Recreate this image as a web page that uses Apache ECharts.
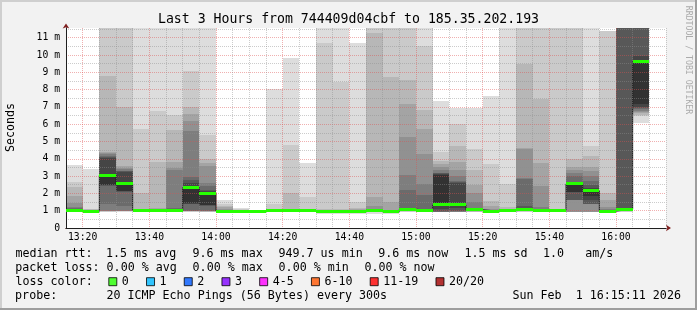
<!DOCTYPE html>
<html>
<head>
<meta charset="utf-8">
<script src="https://cdn.jsdelivr.net/npm/echarts@6/dist/echarts.min.js"></script>
<style>
html,body{margin:0;padding:0;background:#f2f2f2;}
#c{width:697px;height:310px;}
</style>
</head>
<body>
<div id="c"></div>
<script>
// ---------------- DATA ----------------
const title = 'Last 3 Hours from 744409d04cbf to 185.35.202.193';
const yTitle = 'Seconds';
const credit = 'RRDTOOL / TOBI OETIKER';

// 5-minute slot start times (local)
const slotStart = ['13:15','13:20','13:25','13:30','13:35','13:40','13:45','13:50','13:55','14:00',
                   '14:05','14:10','14:15','14:20','14:25','14:30','14:35','14:40','14:45','14:50',
                   '14:55','15:00','15:05','15:10','15:15','15:20','15:25','15:30','15:35','15:40',
                   '15:45','15:50','15:55','16:00','16:05','16:10'];
const slotMinutes = 5;

// median RTT per slot (ms)
const median = [1.00,0.97,3.05,2.55,1.00,1.02,1.02,2.33,2.02,0.98,
                0.98,0.98,1.00,1.00,1.00,0.97,0.97,0.98,1.00,0.96,
                1.08,1.03,1.37,1.35,1.05,0.97,1.00,1.07,1.00,1.00,
                2.55,2.16,0.98,1.08,9.61,null];

// packets lost per slot (of 20)
const loss = [0,0,0,0,0,0,0,0,0,0, 0,0,0,0,0,0,0,0,0,0, 0,0,0,0,0,0,0,0,0,0, 0,0,0,0,0,null];

// 20 sorted ping RTTs per slot (ms)
const pings = [
 [0.91,0.94,0.95,0.96,0.97,0.97,0.98,0.98,0.99,0.99, 1.02,1.05,1.10,1.14,1.23,1.43,1.87,2.39,2.64,3.64],
 [0.91,0.93,0.94,0.95,0.95,0.96,0.96,0.97,0.97,0.97, 0.98,0.99,1.00,1.01,1.02,1.03,1.05,1.08,1.12,3.41],
 [0.90,0.95,0.97,0.98,0.99,1.00,1.39,2.45,2.47,2.49, 3.12,4.03,4.10,4.15,4.28,4.35,4.41,8.80,13.0,16.0],
 [0.92,0.96,0.98,0.99,1.00,1.00,1.29,2.10,2.13,2.16, 2.64,3.25,3.28,3.31,3.40,3.47,3.60,7.00,13.0,16.0],
 [0.90,0.93,0.95,0.96,0.97,0.98,0.98,0.99,0.99,1.00, 1.01,1.02,1.03,1.04,1.05,1.07,1.12,2.00,5.72,14.0],
 [0.90,0.93,0.95,0.96,0.97,0.98,0.99,0.99,1.00,1.01, 1.03,1.04,1.05,1.07,1.09,1.12,1.17,3.83,6.76,14.0],
 [0.90,0.93,0.95,0.96,0.97,0.98,0.99,1.00,1.00,1.01, 1.03,1.05,1.08,1.14,3.35,3.45,3.83,5.66,6.55,14.0],
 [0.92,0.95,0.96,0.97,0.98,0.99,1.00,1.38,1.40,1.42, 2.45,2.60,2.77,2.95,5.60,6.20,6.59,6.98,9.05,13.0],
 [0.90,0.93,0.95,0.96,0.97,0.98,1.00,1.29,1.31,1.33, 2.10,2.16,2.20,2.40,2.58,3.60,3.74,3.99,5.38,12.0],
 [0.91,0.93,0.94,0.95,0.96,0.96,0.97,0.97,0.98,0.98, 0.99,1.00,1.01,1.03,1.05,1.10,1.20,1.30,1.39,1.62],
 [0.91,0.93,0.94,0.95,0.96,0.96,0.97,0.97,0.98,0.98, 0.99,0.99,1.00,1.00,1.01,1.02,1.03,1.05,1.08,1.17],
 [0.92,0.93,0.94,0.95,0.96,0.96,0.97,0.97,0.98,0.98, 0.98,0.99,0.99,1.00,1.00,1.01,1.01,1.02,1.03,1.05],
 [0.91,0.93,0.94,0.95,0.96,0.97,0.98,0.98,0.99,0.99, 1.00,1.01,1.02,1.03,1.04,1.05,1.07,1.10,1.37,8.03],
 [0.91,0.93,0.94,0.95,0.96,0.97,0.98,0.98,0.99,0.99, 1.00,1.01,1.02,1.03,1.04,1.06,1.08,2.00,4.82,9.83],
 [0.91,0.93,0.94,0.95,0.96,0.97,0.98,0.98,0.99,0.99, 1.00,1.01,1.02,1.03,1.04,1.05,1.06,1.08,1.81,3.76],
 [0.82,0.90,0.92,0.93,0.94,0.95,0.96,0.96,0.97,0.97, 0.98,0.99,1.00,1.01,1.02,1.03,1.05,1.10,10.70,14.0],
 [0.82,0.90,0.92,0.93,0.94,0.95,0.96,0.96,0.97,0.97, 0.98,0.99,1.00,1.01,1.02,1.03,1.05,1.10,8.44,14.0],
 [0.82,0.90,0.92,0.93,0.94,0.95,0.96,0.97,0.97,0.98, 0.99,1.00,1.01,1.02,1.03,1.05,1.08,1.14,1.52,10.70],
 [0.82,0.90,0.93,0.94,0.95,0.96,0.97,0.98,0.99,1.00, 1.01,1.02,1.04,1.06,1.10,1.27,1.77,11.25,13.0,15.0],
 [0.82,0.90,0.92,0.93,0.94,0.95,0.95,0.96,0.96,0.96, 0.97,0.98,0.99,1.00,1.02,1.04,1.50,8.75,13.0,15.0],
 [0.91,0.94,0.96,0.97,0.98,0.99,1.00,1.02,1.04,1.06, 1.09,1.10,1.12,2.22,3.04,5.28,7.17,8.55,13.0,15.0],
 [0.91,0.94,0.96,0.97,0.98,0.99,1.00,1.01,1.02,1.03, 1.06,1.08,1.12,1.91,2.56,4.30,5.72,6.82,10.50,14.0],
 [0.90,0.91,0.92,0.93,0.93,0.94,0.95,0.98,1.10,1.30, 3.05,3.10,3.16,3.20,3.35,3.52,3.70,3.86,4.37,7.32],
 [0.90,0.92,0.93,0.94,0.95,0.95,0.97,1.00,1.15,1.30, 1.45,2.60,2.65,2.73,3.00,3.33,3.80,4.76,6.03,6.95],
 [0.91,0.93,0.95,0.96,0.97,0.98,0.99,1.00,1.01,1.03, 1.06,1.08,1.10,1.15,1.50,2.05,2.47,3.35,4.56,6.93],
 [0.91,0.93,0.94,0.95,0.96,0.96,0.97,0.97,0.98,0.98, 0.99,1.00,1.02,1.04,1.06,1.10,1.25,1.57,3.72,7.64],
 [0.91,0.93,0.94,0.95,0.96,0.97,0.98,0.98,0.99,0.99, 1.01,1.02,1.03,1.04,1.05,1.08,1.12,1.20,2.54,14.0],
 [0.91,0.94,0.96,0.97,0.98,0.99,1.00,1.01,1.03,1.05, 1.10,1.15,1.26,2.85,2.88,4.55,4.61,9.46,13.0,15.0],
 [0.91,0.93,0.95,0.96,0.97,0.98,0.98,0.99,0.99,1.00, 1.01,1.03,1.05,1.10,1.22,2.41,3.74,7.48,13.0,15.0],
 [0.91,0.93,0.95,0.96,0.97,0.98,0.98,0.99,0.99,1.00, 1.01,1.02,1.03,1.04,1.05,1.06,1.08,1.10,13.0,15.0],
 [0.91,0.92,0.93,0.93,0.94,1.60,1.61,1.62,2.06,2.07, 2.58,2.60,2.68,3.00,3.20,3.35,3.52,4.01,13.0,15.0],
 [0.91,0.92,0.92,0.93,0.93,1.37,1.38,1.39,1.60,1.87, 2.25,2.30,2.50,2.73,3.00,3.31,3.50,4.14,4.75,14.0],
 [0.91,0.93,0.94,0.95,0.96,0.96,0.97,0.97,0.98,0.98, 0.99,1.00,1.02,1.05,1.10,1.20,1.62,2.05,11.37,11.40],
 [0.91,0.95,0.97,0.98,0.99,1.00,1.02,1.04,1.06,1.07, 1.09,1.10,14.0,14.0,14.0,15.0,15.0,15.0,16.0,16.0],
 [6.05,6.45,6.55,6.62,6.70,6.78,6.85,6.92,6.98,7.17, 9.67,9.96,14.0,14.0,15.0,15.0,15.0,16.0,16.0,17.0],
 null
];

// legend texts
const rttLabel = 'median rtt:';
const rttStats = ['1.5 ms avg','9.6 ms max','949.7 us min','9.6 ms now','1.5 ms sd','1.0','am/s'];
const lossLabel = 'packet loss:';
const lossStats = ['0.00 % avg','0.00 % max','0.00 % min','0.00 % now'];
const lossColorLabel = 'loss color:';
const lossLabels = ['0','1','2','3','4-5','6-10','11-19','20/20'];
const lossColors = ['#26ff00','#00b8ff','#0059ff','#7e00ff','#ff00ff','#ff5500','#ff0000','#a10000'];
const probeLabel = 'probe:';
const probeText = '20 ICMP Echo Pings (56 Bytes) every 300s';
const dateText = 'Sun Feb  1 16:15:11 2026';

// ---------------- HELPERS / STYLE ----------------
const MONO = 'DejaVu Sans Mono';
const LEG = 11.67;
const AXIS_COLOR = '#1f1f1f';
const ARROW_COLOR = '#801f1f';
const GRID_MINOR = 'rgba(143,143,143,0.45)';
const GRID_MAJOR = 'rgba(222,79,79,0.45)';
const toMin = s => { const p = s.split(':').map(Number); return p[0] * 60 + p[1]; };
const fmtHM = v => { const h = Math.floor(v / 60), m = Math.round(v - h * 60); return h + ':' + String(m).padStart(2, '0'); };
const lossIndex = n => n <= 3 ? n : n <= 5 ? 4 : n <= 10 ? 5 : n <= 19 ? 6 : 7;

const xMin = toMin(slotStart[0]);
const xMax = toMin(slotStart[slotStart.length - 1]) + slotMinutes;
const yMax = 11.56;

const smokeData = [];
const medianData = [];
const stepData = [];
let lastEnd = null;
slotStart.forEach((s, i) => {
  const t0 = toMin(s), t1 = t0 + slotMinutes;
  if (pings[i]) smokeData.push([t0, t1].concat(pings[i]));
  if (median[i] != null) {
    medianData.push([t0, t1, median[i], loss[i]]);
    stepData.push([t0, median[i]]);
    lastEnd = [t1, median[i]];
  }
});
if (lastEnd) stepData.push(lastEnd);

// grid colours per tick (major every 20 min / every 1 ms)
const xTickColors = [];
for (let v = xMin; v <= xMax + 1e-9; v += 5) xTickColors.push(v % 20 === 0 ? GRID_MAJOR : GRID_MINOR);
const yTickColors = [];
for (let v = 0; v <= yMax + 1e-9; v += 0.5) yTickColors.push(v % 1 === 0 ? GRID_MAJOR : GRID_MINOR);
yTickColors.push('rgba(0,0,0,0)');

function renderSmoke(params, api) {
  const cs = params.coordSys;
  const t0 = api.value(0), t1 = api.value(1);
  const children = [];
  for (let k = 0; k < 10; k++) {
    const lo = api.value(2 + k), hi = api.value(21 - k);
    const a = api.coord([t0, lo]), b = api.coord([t1, hi]);
    const x0 = Math.round(a[0]), x1 = Math.round(b[0]);
    const yb = Math.round(Math.min(a[1], cs.y + cs.height));
    const yt = Math.round(Math.max(b[1], cs.y));
    if (yb <= yt) continue;
    const c = 221 - 19 * k;
    children.push({ type: 'rect', shape: { x: x0, y: yt, width: x1 - x0, height: yb - yt },
                    style: { fill: 'rgb(' + c + ',' + c + ',' + c + ')' } });
  }
  return { type: 'group', children };
}
function renderMedian(params, api) {
  const a = api.coord([api.value(0), api.value(2)]);
  const b = api.coord([api.value(1), api.value(2)]);
  const x0 = Math.round(a[0]), x1 = Math.round(b[0]);
  return { type: 'rect', shape: { x: x0, y: Math.round(a[1] - 1.5), width: x1 - x0, height: 3 },
           style: { fill: lossColors[lossIndex(api.value(3))] } };
}
function txt(text, x, y, o) {
  o = o || {};
  const align = o.align || 'left';
  return { type: 'text', x: x, y: y, rotation: o.rotation || 0, silent: true, z: 10,
    style: { text: text, fill: o.color || '#000', font: (o.size || LEG) + 'px "' + MONO + '"',
             textAlign: align, align: align, textVerticalAlign: 'middle', verticalAlign: 'middle' } };
}

const r1 = 254.2, r2 = 268.2, r3 = 282.2, r4 = 295.9;
const rttX = [106, 192.5, 278.5, 378.2, 464.4, 543, 585.3];
const lossX = [106.6, 192.6, 278.6, 364.4];

const graphic = [
  { type: 'rect', silent: true, z: 0, shape: { x: 0, y: 0, width: 697, height: 2 }, style: { fill: '#cfcfcf' } },
  { type: 'rect', silent: true, z: 0, shape: { x: 0, y: 0, width: 2, height: 310 }, style: { fill: '#cfcfcf' } },
  { type: 'rect', silent: true, z: 0, shape: { x: 0, y: 308, width: 697, height: 2 }, style: { fill: '#9e9e9e' } },
  { type: 'rect', silent: true, z: 0, shape: { x: 695, y: 0, width: 2, height: 310 }, style: { fill: '#9e9e9e' } },
  txt(title, 348.5, 19.4, { size: 13.2, align: 'center' }),
  txt(yTitle, 10.5, 127.5, { align: 'center', rotation: Math.PI / 2 }),
  txt(credit, 687.8, 60, { size: 8.2, align: 'center', rotation: -Math.PI / 2, color: '#ababab' }),
  txt(rttLabel, 15.4, r1),
  txt(lossLabel, 15.3, r2),
  txt(lossColorLabel, 15.5, r3),
  txt(probeLabel, 15.1, r4),
  txt(probeText, 106.4, r4),
  txt(dateText, 512.5, r4)
];
rttStats.forEach((s, i) => graphic.push(txt(s, rttX[i], r1)));
lossStats.forEach((s, i) => graphic.push(txt(s, lossX[i], r2)));

const chart = echarts.init(document.getElementById('c'), null, { renderer: 'canvas', width: 697, height: 310 });
chart.setOption({
  animation: false,
  backgroundColor: '#f2f2f2',
  grid: { left: 66, top: 28, width: 600, height: 200, show: true, backgroundColor: '#ffffff', borderWidth: 0, containLabel: false, outerBoundsMode: 'none' },
  xAxis: [
    { type: 'value', min: xMin, max: xMax, interval: 5, position: 'bottom', z: 2,
      axisLine: { show: true, onZero: false, lineStyle: { color: AXIS_COLOR, width: 1 } },
      axisTick: { show: false },
      axisLabel: { show: true, interval: 0, margin: 4, hideOverlap: false, color: '#000',
                   fontFamily: MONO, fontSize: 9.75, lineHeight: 10,
                   formatter: v => (Math.round(v) % 20 === 0 ? fmtHM(v) : '') },
      splitLine: { show: true, lineStyle: { color: xTickColors, width: 1, type: [1, 1] } } },
    { type: 'value', min: xMin, max: xMax, interval: 5, position: 'bottom', z: 1.9,
      axisLine: { show: true, onZero: false, symbol: ['none', 'arrow'], symbolSize: [5, 5], symbolOffset: [0, 5],
                  lineStyle: { color: ARROW_COLOR, width: 1 } },
      axisTick: { show: false }, axisLabel: { show: false }, splitLine: { show: false } }
  ],
  yAxis: [
    { type: 'value', min: 0, max: yMax, interval: 0.5, position: 'left', z: 2,
      axisLine: { show: true, onZero: false, lineStyle: { color: AXIS_COLOR, width: 1 } },
      axisTick: { show: false },
      axisLabel: { show: true, interval: 0, margin: 6, hideOverlap: false, color: '#000',
                   fontFamily: MONO, fontSize: 9.75, lineHeight: 10,
                   formatter: v => (Math.abs(v - Math.round(v)) < 1e-6 && v <= 11 ? (Math.round(v) === 0 ? '0' : Math.round(v) + ' m') : '') },
      splitLine: { show: true, showMaxLine: false, lineStyle: { color: yTickColors, width: 1, type: [1, 1] } } },
    { type: 'value', min: 0, max: yMax, interval: 0.5, position: 'left', z: 1.9,
      axisLine: { show: true, onZero: false, symbol: ['none', 'arrow'], symbolSize: [5, 5], symbolOffset: [0, 4.5],
                  lineStyle: { color: ARROW_COLOR, width: 1 } },
      axisTick: { show: false }, axisLabel: { show: false }, splitLine: { show: false } }
  ],
  legend: { left: 108.3, top: 274.7, padding: 0, orient: 'horizontal', itemWidth: 8, itemHeight: 8, itemGap: 17.2,
            icon: 'rect', selectedMode: false, data: lossLabels,
            itemStyle: { borderColor: '#000', borderWidth: 1 },
            textStyle: { fontFamily: MONO, fontSize: LEG, color: '#000', lineHeight: 14 } },
  graphic: graphic,
  series: [
    { type: 'custom', name: 'smoke', z: 1, clip: true, silent: true, renderItem: renderSmoke,
      encode: { x: [0, 1], y: 2 }, data: smokeData },
    { type: 'line', name: 'median step', z: 1.5, step: 'end', symbol: 'none', silent: true,
      lineStyle: { color: '#1e1e1e', width: 1 }, data: stepData },
    { type: 'custom', name: 'median rtt', z: 3, clip: true, silent: true, renderItem: renderMedian,
      encode: { x: [0, 1], y: 2 }, data: medianData }
  ].concat(lossLabels.map((n, i) => ({ type: 'scatter', name: n, data: [], symbol: 'rect', itemStyle: { color: lossColors[i] } })))
});
</script>
</body>
</html>
